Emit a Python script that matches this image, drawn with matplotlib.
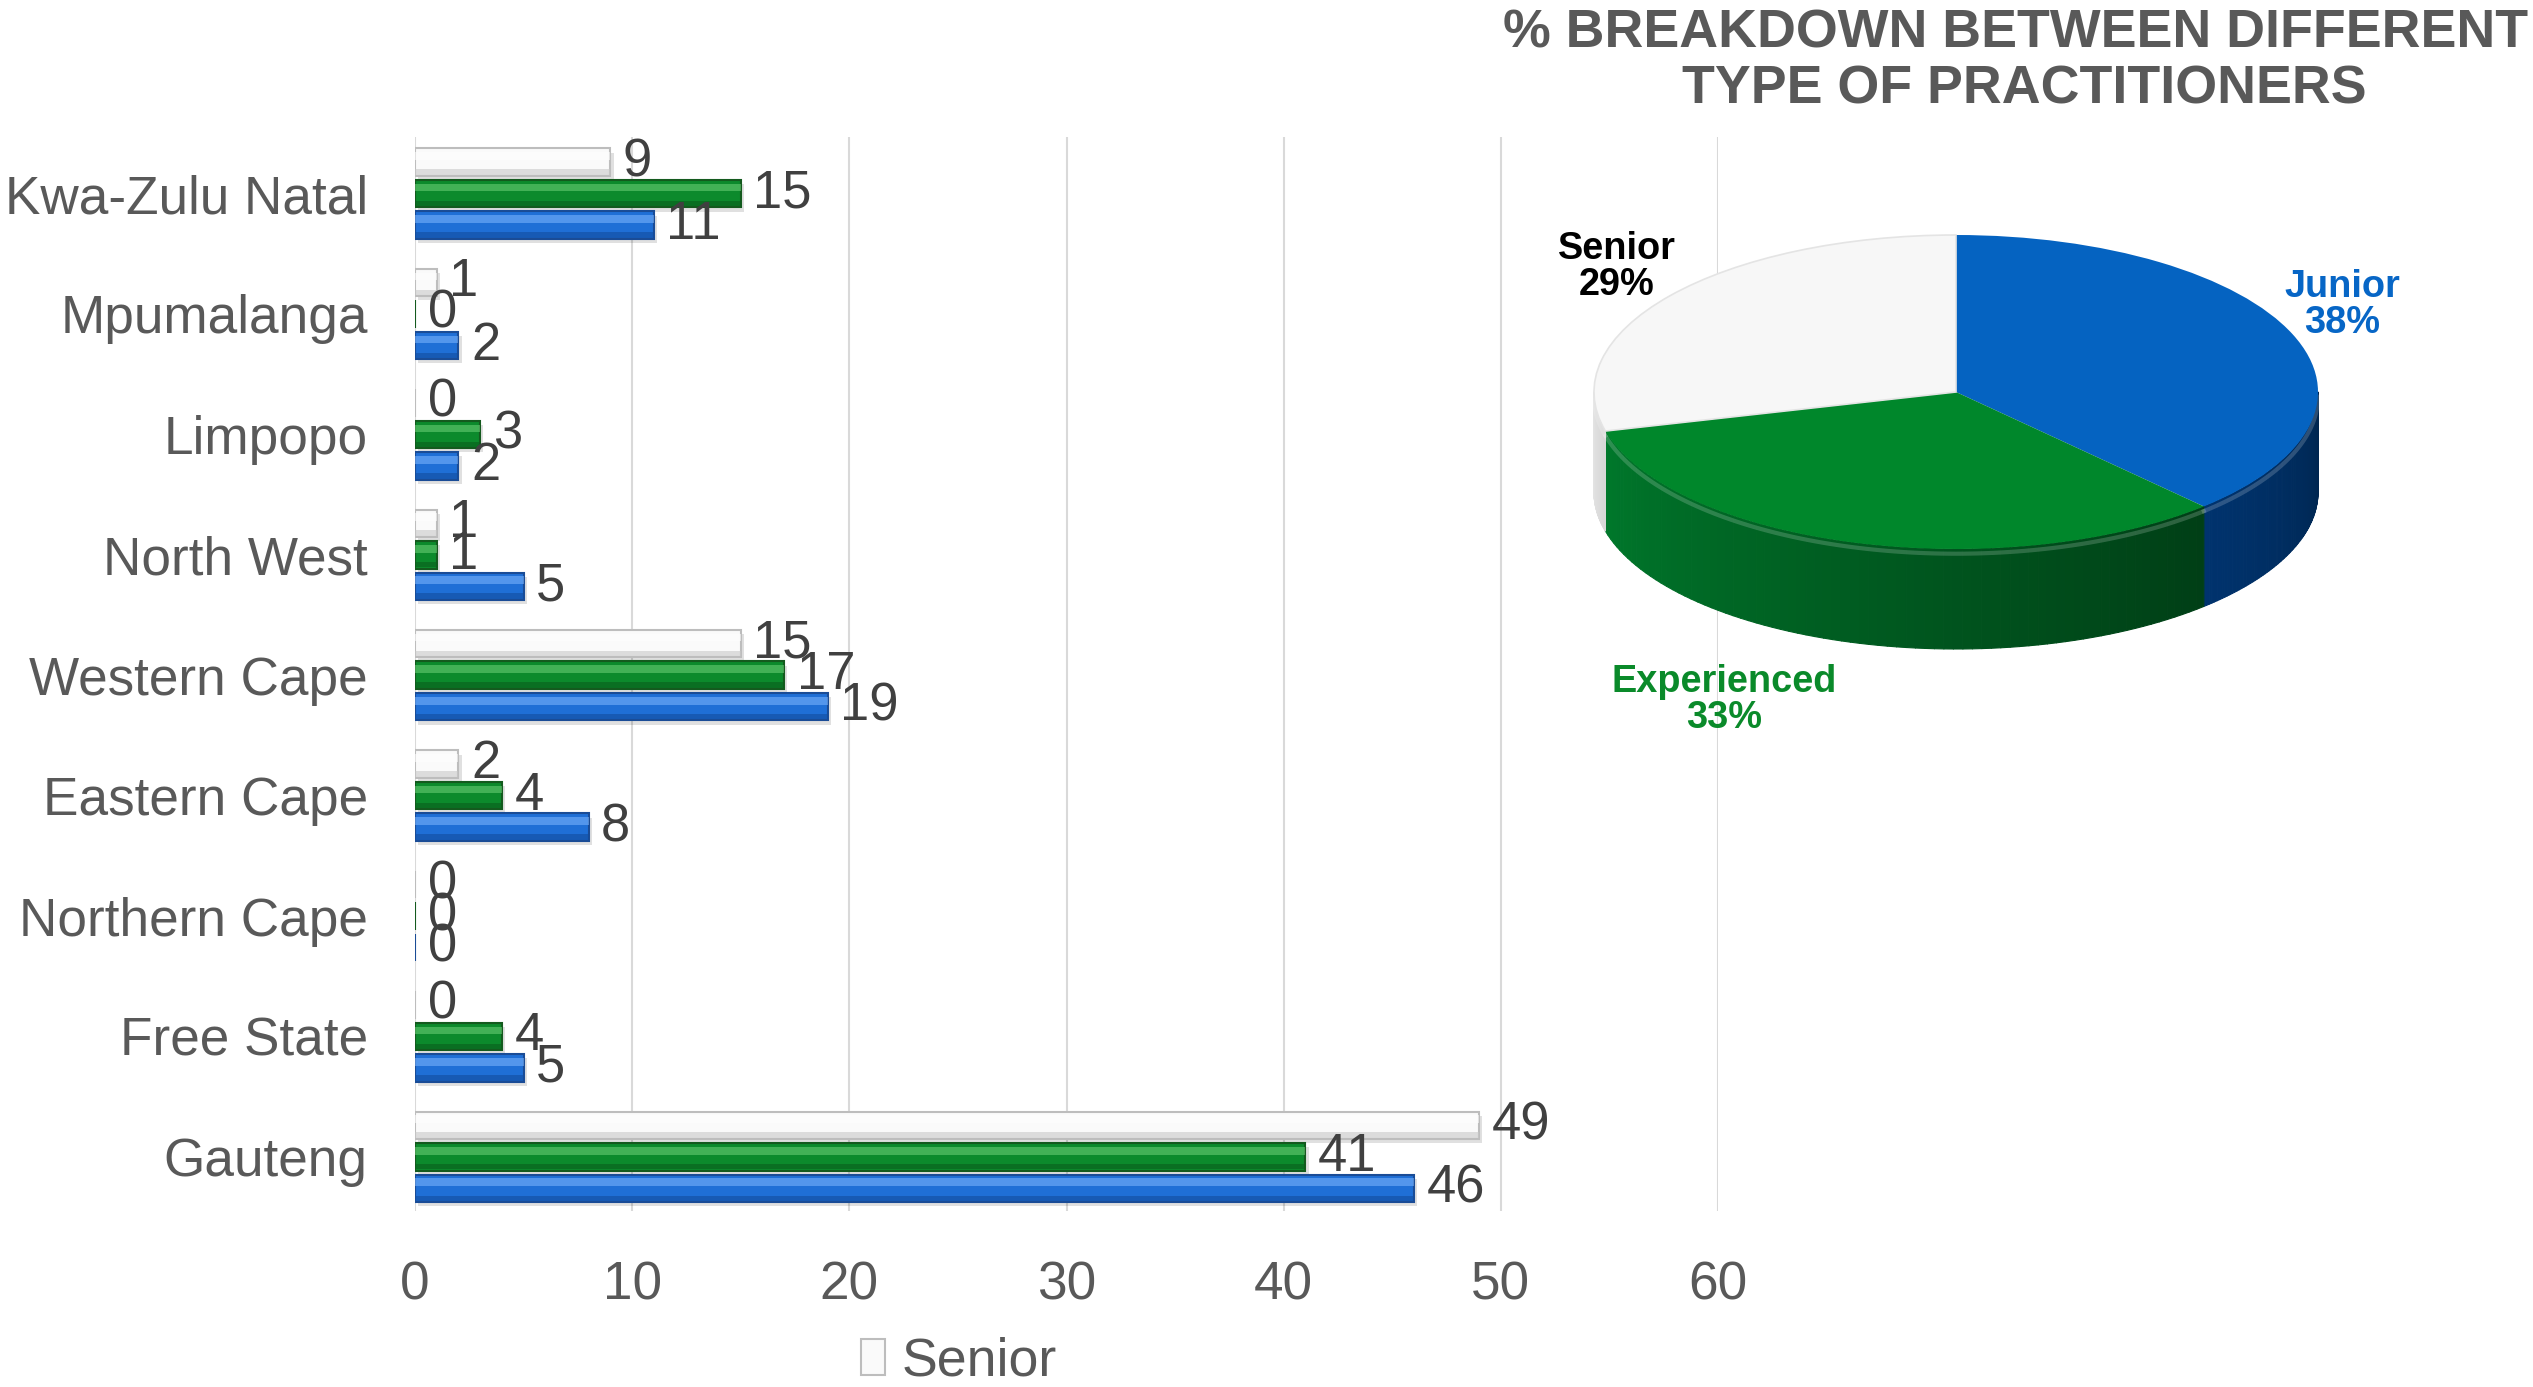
import numpy as np
import matplotlib
matplotlib.use("Agg")
import matplotlib.pyplot as plt
from matplotlib import font_manager as fm
from matplotlib.collections import PolyCollection
from matplotlib.colors import to_rgb

# ---------------- data ----------------
categories = ["Kwa-Zulu Natal", "Mpumalanga", "Limpopo", "North West", "Western Cape",
              "Eastern Cape", "Northern Cape", "Free State", "Gauteng"]
senior = [9, 1, 0, 1, 15, 2, 0, 0, 49]
experienced = [15, 0, 3, 1, 17, 4, 0, 4, 41]
junior = [11, 2, 2, 5, 19, 8, 0, 5, 46]
x_ticks = [0, 10, 20, 30, 40, 50, 60]

pie_labels = ["Junior", "Experienced", "Senior"]
pie_values = [38, 33, 29]

title_lines = ["% BREAKDOWN BETWEEN DIFFERENT", "TYPE OF PRACTITIONERS"]

# ---------------- fonts ----------------
names = {f.name for f in fm.fontManager.ttflist}
if "Liberation Sans Narrow" in names:
    FAM = ["Liberation Sans Narrow", "DejaVu Sans"]
    k = 1.0
else:
    FAM = ["Liberation Sans", "DejaVu Sans"]
    k = 0.88
plt.rcParams["font.family"] = FAM

W, H = 2533, 1387
fig = plt.figure(figsize=(W / 100, H / 100), dpi=100)
fig.patch.set_facecolor("white")

GRAY = "#595959"

# ---------------- bar chart ----------------
ax = fig.add_axes([415 / W, 1 - 1211 / H, (1718 - 415) / W, (1211 - 137) / H])
n = len(categories)
ypos = np.arange(n)[::-1].astype(float)  # first category at top
step = 0.262
bh = 0.228

series = [
    (senior, +step, "#FAFAFA", "#BDBDBD", "#FFFFFF", "#C8C8C8"),
    (experienced, 0.0, "#0C8A2C", "#145A1E", "#6FD27A", "#0A5E1C"),
    (junior, -step, "#1F6FD6", "#1A4C96", "#7FB8FF", "#124C9E"),
]
containers = []
for vals, off, face, edge, hi, lo in series:
    y = ypos + off
    # drop shadow
    ax.barh(y - 0.035, vals, height=bh, left=0.15, color="black", alpha=0.12,
            linewidth=0, zorder=2)
    c = ax.barh(y, vals, height=bh, color=face, edgecolor=edge, linewidth=1.5, zorder=3)
    # gloss highlight (upper part) and darker lower band
    ax.barh(y + bh * 0.22, vals, height=bh * 0.28, color=hi, alpha=0.55, linewidth=0, zorder=4)
    ax.barh(y - bh * 0.36, vals, height=bh * 0.2, color=lo, alpha=0.6, linewidth=0, zorder=4)
    containers.append(c)
    ax.bar_label(c, padding=9, fontsize=43 * k, color="#404040", zorder=5)

ax.set_xlim(0, 60)
ax.set_ylim(-0.45, 8.47)
ax.set_xticks(x_ticks)
ax.set_xticklabels([str(t) for t in x_ticks])
ax.set_yticks(ypos)
ax.set_yticklabels(categories)
ax.tick_params(axis="both", length=0, colors=GRAY, labelsize=43.5 * k)
ax.tick_params(axis="y", pad=34)
ax.tick_params(axis="x", pad=36)
for s in ax.spines.values():
    s.set_visible(False)
ax.xaxis.grid(True, color="#D9D9D9", linewidth=1.5)
ax.set_axisbelow(True)
ax.set_facecolor("none")

fig.legend(handles=[containers[0]], labels=["Senior"], loc="center left",
           bbox_to_anchor=(861 / W, 1 - 1362 / H), frameon=False,
           handlelength=0.45, handleheight=0.65, handletextpad=0.3,
           borderpad=0, borderaxespad=0, fontsize=44 * k, labelcolor=GRAY)

# ---------------- 3D-ish pie ----------------
cx, cy, rx, ry, depth = 1956, 392, 362, 157, 100
d = depth / ry
axp = fig.add_axes([(cx - 1.3 * rx) / W, 1 - (cy + (1.3 + d) * ry) / H,
                    2.6 * rx / W, ((2.6 + d) * ry) / H])
top_colors = ["#0563C1", "#00872B", "#F7F7F7"]
side_dark = [("#00336E", "#002650"), ("#00782B", "#003F16"), ("#E6E6E6", "#D8D8D8")]
wedges, _ = axp.pie(pie_values, startangle=90, counterclock=False,
                    colors=top_colors, radius=1, center=(0, 0),
                    wedgeprops=dict(edgecolor="none", linewidth=0))
for w in wedges:
    w.set_zorder(3)
for w, col in zip(wedges, top_colors):
    if col == "#F7F7F7":
        w.set_edgecolor("#E4E4E4")
        w.set_linewidth(1.2)

for w, (c1, c2) in zip(wedges, side_dark):
    t1, t2 = w.theta1, w.theta2
    a1 = ((t1 + 180) % 360) - 180
    a2 = a1 + (t2 - t1)
    lo_a, hi_a = max(a1, -180), min(a2, 0)
    if hi_a <= lo_a:
        a1s, a2s = a1 - 360, a2 - 360
        lo_a, hi_a = max(a1s, -180), min(a2s, 0)
    if hi_a <= lo_a:
        continue
    ts = np.radians(np.linspace(lo_a, hi_a, 80))
    polys, cols = [], []
    r1, r2 = np.array(to_rgb(c1)), np.array(to_rgb(c2))
    for i in range(len(ts) - 1):
        ta, tb = ts[i], ts[i + 1]
        poly = [(np.cos(ta), np.sin(ta)), (np.cos(tb), np.sin(tb)),
                (np.cos(tb), np.sin(tb) - d), (np.cos(ta), np.sin(ta) - d)]
        polys.append(poly)
        f = i / (len(ts) - 2)
        cols.append(tuple(r1 * (1 - f) + r2 * f))
    axp.add_collection(PolyCollection(polys, facecolors=cols, edgecolors=cols,
                                      linewidths=0.8, zorder=2))
    tt = np.radians(np.linspace(lo_a, hi_a, 100))
    axp.plot(np.cos(tt), np.sin(tt) - 0.03, color="white", alpha=0.18, lw=3, zorder=2.5)

axp.set_aspect("auto")
axp.set_xlim(-1.3, 1.3)
axp.set_ylim(-1.3 - d, 1.3)
axp.axis("off")

# pie labels
fig.text(1617 / W, 1 - 267 / H, "Senior\n29%", ha="center", va="center",
         fontsize=31 * k, fontweight="bold", color="black", linespacing=1.0)
fig.text(2342 / W, 1 - 305 / H, "Junior\n38%", ha="center", va="center",
         fontsize=31 * k, fontweight="bold", color="#0766C6", linespacing=1.0)
fig.text(1724 / W, 1 - 700 / H, "Experienced\n33%", ha="center", va="center",
         fontsize=31 * k, fontweight="bold", color="#0A8A2A", linespacing=1.0)

# title
fig.text(2016 / W, 1 - 33 / H, title_lines[0], ha="center", va="center",
         fontsize=44 * k, fontweight="bold", color=GRAY)
fig.text(2024 / W, 1 - 90 / H, title_lines[1], ha="center", va="center",
         fontsize=44 * k, fontweight="bold", color=GRAY)

fig.savefig("out.png", dpi=100, facecolor="white")
